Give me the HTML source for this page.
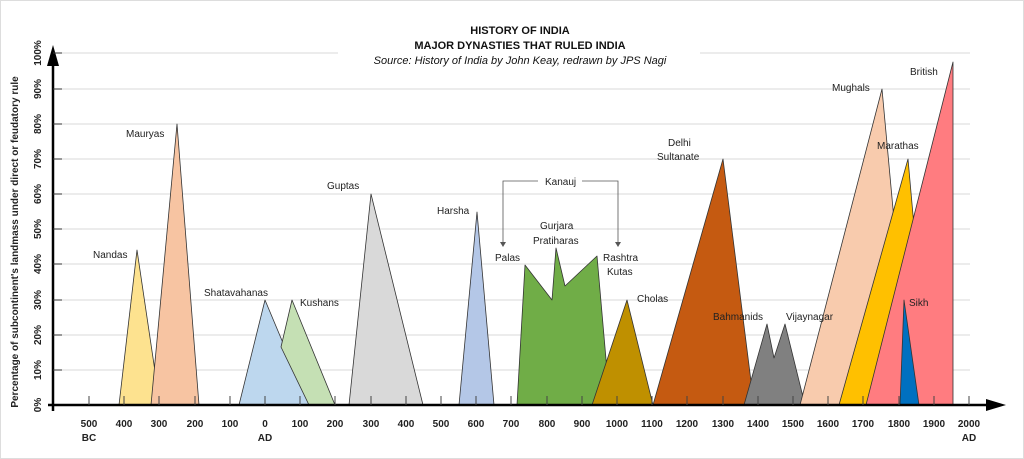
<!DOCTYPE html>
<html><head><meta charset="utf-8"><style>
html,body{margin:0;padding:0;background:#fff;}
svg{display:block;font-family:"Liberation Sans",sans-serif;}
</style></head><body>
<svg width="1024" height="459" viewBox="0 0 1024 459" xmlns="http://www.w3.org/2000/svg">
<rect x="0" y="0" width="1024" height="459" fill="#fff"/>
<rect x="0.5" y="0.5" width="1023" height="458" fill="none" stroke="#ddd"/>
<g stroke="#d9d9d9" stroke-width="1">
<line x1="62" y1="370" x2="970" y2="370"/><line x1="62" y1="335" x2="970" y2="335"/>
<line x1="62" y1="300" x2="970" y2="300"/><line x1="62" y1="264" x2="970" y2="264"/>
<line x1="62" y1="229" x2="970" y2="229"/><line x1="62" y1="194" x2="970" y2="194"/>
<line x1="62" y1="159" x2="970" y2="159"/><line x1="62" y1="124" x2="970" y2="124"/>
<line x1="62" y1="89" x2="970" y2="89"/><line x1="62" y1="53" x2="970" y2="53"/>
</g>
<rect x="338" y="20" width="362" height="50" fill="#fff"/>
<g stroke="#333" stroke-width="0.8" stroke-linejoin="round">
<polygon points="119,405 137,250 160,405" fill="#fde28f"/>
<polygon points="151,405 177,124 199,405" fill="#f7c4a2"/>
<polygon points="239,405 265,300 309,405" fill="#bdd7ee"/>
<polygon points="281,347 292,300 335,405 309,405" fill="#c5e0b4"/>
<polygon points="349,405 371,194 423,405" fill="#d9d9d9"/>
<polygon points="459,405 477,212 494,405" fill="#b4c7e7"/>
<polygon points="517,405 525,265 552,300 556,248 565,286 597,256 610,405" fill="#70ad47"/>
<polygon points="592,405 627,300 653,405" fill="#bf9000"/>
<polygon points="653,405 723,159 754,405" fill="#c55a11"/>
<polygon points="744,405 767,324 774,358 785,324 805,405" fill="#808080"/>
<polygon points="800,405 882,89 911,405" fill="#f8cbad"/>
<polygon points="839,405 908,159 930,405" fill="#ffc000"/>
<polygon points="866,405 953,62 953,405" fill="#ff7c80"/>
<polygon points="900,405 904,300 919,405" fill="#0070c0"/>
</g>
<g stroke="#000" stroke-width="2.5">
<line x1="53" y1="65" x2="53" y2="411"/>
<line x1="48" y1="405" x2="990" y2="405"/>
</g>
<polygon points="53,45 47,66 59,66" fill="#000"/>
<polygon points="1006,405 986,399 986,411" fill="#000"/>
<g stroke="#333" stroke-width="1">
<line x1="53" y1="370" x2="62" y2="370"/><line x1="53" y1="335" x2="62" y2="335"/><line x1="53" y1="300" x2="62" y2="300"/><line x1="53" y1="264" x2="62" y2="264"/><line x1="53" y1="229" x2="62" y2="229"/><line x1="53" y1="194" x2="62" y2="194"/><line x1="53" y1="159" x2="62" y2="159"/><line x1="53" y1="124" x2="62" y2="124"/><line x1="53" y1="89" x2="62" y2="89"/><line x1="53" y1="53" x2="62" y2="53"/>
</g>
<g stroke="#444" stroke-width="1">
<line x1="89" y1="396" x2="89" y2="405"/><line x1="124" y1="396" x2="124" y2="405"/><line x1="159" y1="396" x2="159" y2="405"/><line x1="195" y1="396" x2="195" y2="405"/><line x1="230" y1="396" x2="230" y2="405"/><line x1="265" y1="396" x2="265" y2="405"/><line x1="300" y1="396" x2="300" y2="405"/><line x1="335" y1="396" x2="335" y2="405"/><line x1="371" y1="396" x2="371" y2="405"/><line x1="406" y1="396" x2="406" y2="405"/><line x1="441" y1="396" x2="441" y2="405"/><line x1="476" y1="396" x2="476" y2="405"/><line x1="511" y1="396" x2="511" y2="405"/><line x1="547" y1="396" x2="547" y2="405"/><line x1="582" y1="396" x2="582" y2="405"/><line x1="617" y1="396" x2="617" y2="405"/><line x1="652" y1="396" x2="652" y2="405"/><line x1="687" y1="396" x2="687" y2="405"/><line x1="723" y1="396" x2="723" y2="405"/><line x1="758" y1="396" x2="758" y2="405"/><line x1="793" y1="396" x2="793" y2="405"/><line x1="828" y1="396" x2="828" y2="405"/><line x1="863" y1="396" x2="863" y2="405"/><line x1="899" y1="396" x2="899" y2="405"/><line x1="934" y1="396" x2="934" y2="405"/><line x1="969" y1="396" x2="969" y2="405"/>
</g>
<g font-size="10" font-weight="bold" fill="#222" text-anchor="middle">
<text x="89" y="427">500</text><text x="124" y="427">400</text><text x="159" y="427">300</text><text x="195" y="427">200</text><text x="230" y="427">100</text><text x="265" y="427">0</text><text x="300" y="427">100</text><text x="335" y="427">200</text><text x="371" y="427">300</text><text x="406" y="427">400</text><text x="441" y="427">500</text><text x="476" y="427">600</text><text x="511" y="427">700</text><text x="547" y="427">800</text><text x="582" y="427">900</text><text x="617" y="427">1000</text><text x="652" y="427">1100</text><text x="687" y="427">1200</text><text x="723" y="427">1300</text><text x="758" y="427">1400</text><text x="793" y="427">1500</text><text x="828" y="427">1600</text><text x="863" y="427">1700</text><text x="899" y="427">1800</text><text x="934" y="427">1900</text><text x="969" y="427">2000</text>
<text x="89" y="441">BC</text><text x="265" y="441">AD</text><text x="969" y="441">AD</text>
</g>
<g font-size="10" font-weight="bold" fill="#222" text-anchor="middle">
<text transform="translate(41,405) rotate(-90)">0%</text><text transform="translate(41,370) rotate(-90)">10%</text><text transform="translate(41,335) rotate(-90)">20%</text><text transform="translate(41,300) rotate(-90)">30%</text><text transform="translate(41,264) rotate(-90)">40%</text><text transform="translate(41,229) rotate(-90)">50%</text><text transform="translate(41,194) rotate(-90)">60%</text><text transform="translate(41,159) rotate(-90)">70%</text><text transform="translate(41,124) rotate(-90)">80%</text><text transform="translate(41,89) rotate(-90)">90%</text><text transform="translate(41,53) rotate(-90)">100%</text>
<text transform="translate(18,242) rotate(-90)" font-size="10">Percentage of subcontinent's landmass under direct or feudatory rule</text>
</g>
<g text-anchor="middle" fill="#111">
<text x="520" y="34" font-size="11" font-weight="bold">HISTORY OF INDIA</text>
<text x="520" y="49" font-size="11" font-weight="bold">MAJOR DYNASTIES THAT RULED INDIA</text>
<text x="520" y="64" font-size="11" font-style="italic">Source: History of India by John Keay, redrawn by JPS Nagi</text>
</g>
<g font-size="10" fill="#222">
<text x="93" y="258">Nandas</text>
<text x="126" y="137">Mauryas</text>
<text x="204" y="296">Shatavahanas</text>
<text x="300" y="306">Kushans</text>
<text x="327" y="189">Guptas</text>
<text x="437" y="214">Harsha</text>
<text x="495" y="261">Palas</text>
<text x="540" y="229">Gurjara</text>
<text x="533" y="244">Pratiharas</text>
<text x="603" y="261">Rashtra</text>
<text x="607" y="275">Kutas</text>
<text x="637" y="302">Cholas</text>
<text x="668" y="146">Delhi</text>
<text x="657" y="160">Sultanate</text>
<text x="713" y="320">Bahmanids</text>
<text x="786" y="320">Vijaynagar</text>
<text x="832" y="91">Mughals</text>
<text x="877" y="149">Marathas</text>
<text x="910" y="75">British</text>
<text x="909" y="306">Sikh</text>
<text x="545" y="185">Kanauj</text>
</g>
<g fill="none" stroke="#555" stroke-width="0.8">
<polyline points="538,181 503,181 503,245"/>
<polyline points="582,181 618,181 618,245"/>
</g>
<g fill="#555"><polygon points="500,242 503,247 506,242"/><polygon points="615,242 618,247 621,242"/></g>
</svg>
</body></html>
